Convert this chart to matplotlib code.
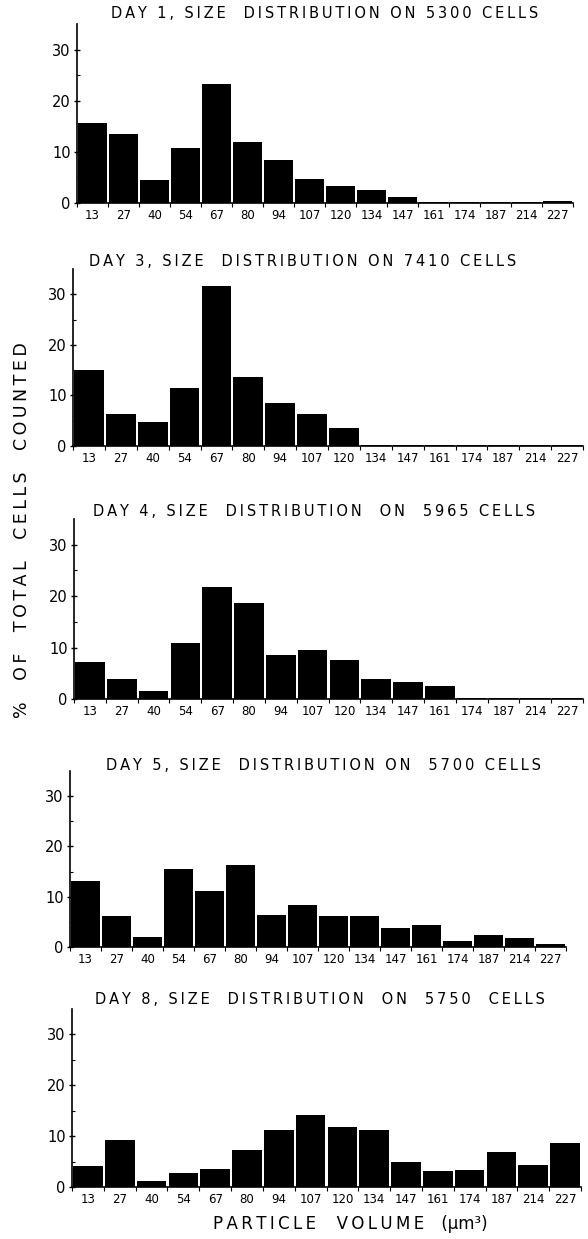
import matplotlib
matplotlib.use("Agg")
import matplotlib.pyplot as plt
import numpy as np

volumes = ["13", "27", "40", "54", "67", "80", "94", "107", "120", "134",
           "147", "161", "174", "187", "214", "227"]

day1 = [15.6, 13.4, 4.5, 10.7, 23.2, 11.9, 8.4, 4.7, 3.3, 2.5, 1.2, 0.1, 0.1, 0.1, 0.2, 0.3]
day3 = [15.0, 6.3, 4.7, 11.5, 31.7, 13.7, 8.5, 6.4, 3.5, 0.1, 0.1, 0.2, 0.1, 0.1, 0.1, 0.2]
day4 = [7.2, 3.9, 1.6, 10.9, 21.8, 18.7, 8.5, 9.6, 7.5, 3.9, 3.3, 2.5, 0.1, 0.1, 0.1, 0.1]
day5 = [13.1, 6.2, 2.0, 15.5, 11.1, 16.4, 6.3, 8.3, 6.1, 6.1, 3.7, 4.4, 1.1, 2.3, 1.7, 0.5]
day8 = [4.1, 9.3, 1.2, 2.7, 3.5, 7.2, 11.3, 14.1, 11.7, 11.3, 4.9, 3.1, 3.3, 6.8, 4.3, 8.7]

titles = ["DAY 1, SIZE  DISTRIBUTION ON 5300 CELLS",
          "DAY 3, SIZE  DISTRIBUTION ON 7410 CELLS",
          "DAY 4, SIZE  DISTRIBUTION  ON  5965 CELLS",
          "DAY 5, SIZE  DISTRIBUTION ON  5700 CELLS",
          "DAY 8, SIZE  DISTRIBUTION  ON  5750  CELLS"]
series = [day1, day3, day4, day5, day8]
yticks = [0, 10, 20, 30]
ylabel = "%  OF  TOTAL  CELLS  COUNTED"
xlabel_words = "PARTICLE  VOLUME  "
xlabel_unit = "(µm³)"


def spaced(s):
    return "\u2009".join(s)


W, H = 588, 1239
fig = plt.figure(figsize=(W / 100, H / 100), dpi=100)

# axes boxes in pixels: left, right, bottom(zero line), top
boxes = [(77, 573, 203, 24), (73, 583, 446, 269), (74, 583, 699, 519),
         (70, 566, 947, 771), (72, 581, 1187, 1009)]
title_pos = [(325, 14), (303, 262), (314, 512), (324, 765), (320, 1000)]

font = "DejaVu Sans"
for vals, title, (l, r, b, t), (tx, ty) in zip(series, titles, boxes, title_pos):
    ax = fig.add_axes([l / W, 1 - b / H, (r - l) / W, (b - t) / H])
    x = np.arange(len(volumes))
    ax.bar(x, vals, width=0.93, color="black", edgecolor="none")
    ax.set_xlim(-0.5, len(volumes) - 0.5)
    ax.set_ylim(0, 35)
    for s in ["top", "right"]:
        ax.spines[s].set_visible(False)
    ax.spines["left"].set_linewidth(1.2)
    ax.spines["bottom"].set_linewidth(1.2)
    ax.set_yticks(yticks)
    ax.set_yticklabels([str(v) for v in yticks], fontsize=10.5, family=font)
    ax.set_yticks([5, 15, 25], minor=True)
    ax.tick_params(axis="y", which="major", direction="inout", length=5, width=1, pad=2)
    ax.tick_params(axis="y", which="minor", direction="in", length=2, width=0.8)
    ax.set_xticks(x)
    ax.set_xticklabels(volumes, fontsize=8.5, family=font)
    ax.set_xticks(np.arange(len(volumes) + 1) - 0.5, minor=True)
    ax.tick_params(axis="x", which="major", length=0, pad=4)
    ax.tick_params(axis="x", which="minor", direction="out", length=3, width=0.8)
    fig.text(tx / W, 1 - ty / H, spaced(title), ha="center", va="center",
             fontsize=10.5, family=font)

fig.text(22 / W, 1 - 530 / H, spaced(ylabel), rotation=90,
         ha="center", va="center", fontsize=12.5, family=font)
fig.text(350 / W, 1 - 1224 / H, spaced(xlabel_words) + xlabel_unit, ha="center",
         va="center", fontsize=12, family=font)

fig.savefig("out.png", dpi=100, facecolor="white")
